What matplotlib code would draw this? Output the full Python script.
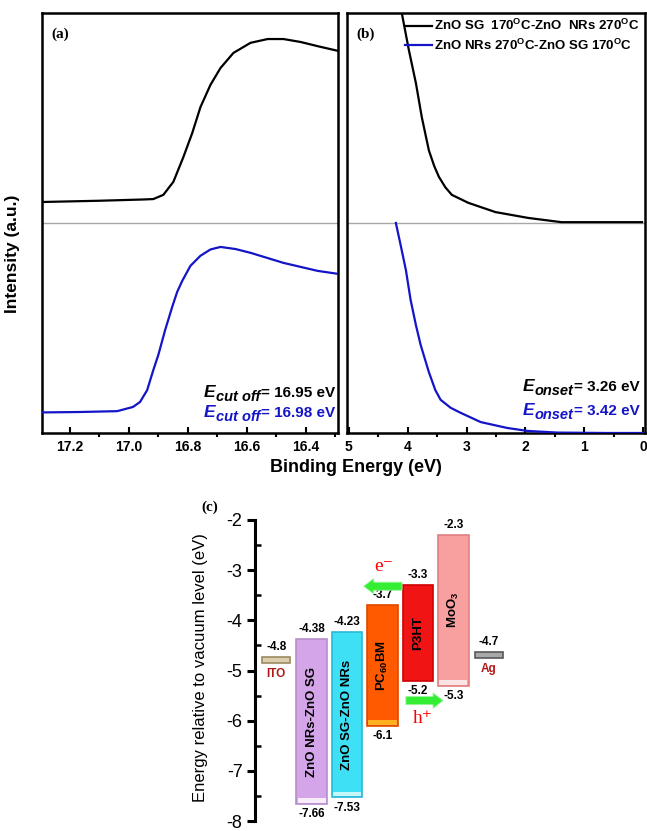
import matplotlib
matplotlib.use("Agg")
import matplotlib.pyplot as plt
from matplotlib.ticker import MultipleLocator, FormatStrFormatter
from matplotlib.lines import Line2D
from matplotlib.transforms import offset_copy

plt.rcParams["font.family"] = "Liberation Sans"
plt.rcParams["axes.unicode_minus"] = False
plt.rcParams["mathtext.fontset"] = "custom"
plt.rcParams["mathtext.rm"] = "Liberation Sans:bold"
plt.rcParams["mathtext.it"] = "Liberation Sans:italic:bold"
plt.rcParams["mathtext.bf"] = "Liberation Sans:bold"

# ---- panel (a): secondary electron cut-off (intensity normalised, stacked) ----
a_black_energy = [17.295, 17.10, 16.95, 16.917, 16.883, 16.849, 16.815, 16.785, 16.757,
                  16.723, 16.689, 16.645, 16.587, 16.529, 16.475, 16.417, 16.359, 16.291]
a_black_int = [0.550, 0.553, 0.556, 0.557, 0.567, 0.598, 0.657, 0.714, 0.776,
               0.829, 0.869, 0.905, 0.929, 0.938, 0.938, 0.931, 0.921, 0.910]
a_blue_energy = [17.295, 17.166, 17.040, 16.986, 16.962, 16.938, 16.917, 16.900, 16.877,
                 16.853, 16.836, 16.819, 16.791, 16.757, 16.723, 16.689, 16.638, 16.587,
                 16.475, 16.359, 16.291]
a_blue_int = [0.049, 0.050, 0.052, 0.062, 0.074, 0.102, 0.150, 0.186, 0.245,
              0.300, 0.336, 0.362, 0.398, 0.422, 0.437, 0.443, 0.438, 0.429,
              0.405, 0.386, 0.379]

# ---- panel (b): valence band onset ----
b_black_energy = [4.15, 4.10, 3.98, 3.86, 3.76, 3.64, 3.55, 3.47, 3.36, 3.25, 2.97,
                  2.51, 1.95, 1.39, 0.81, 0.02]
b_black_int = [1.08, 1.00, 0.912, 0.833, 0.752, 0.673, 0.636, 0.610, 0.585, 0.567,
               0.548, 0.526, 0.512, 0.502, 0.502, 0.502]
b_blue_energy = [4.20, 4.12, 4.03, 3.95, 3.86, 3.78, 3.64, 3.53, 3.44, 3.27, 3.10,
                 2.76, 2.31, 1.97, 1.46, 0.61, 0.0]
b_blue_int = [0.500, 0.448, 0.388, 0.317, 0.257, 0.210, 0.145, 0.102, 0.079, 0.060,
              0.048, 0.026, 0.012, 0.005, 0.001, 0.0, 0.0]

series_labels = ["ZnO SG  170$^{\\mathrm{O}}$C-ZnO  NRs 270$^{\\mathrm{O}}$C",
                 "ZnO NRs 270$^{\\mathrm{O}}$C-ZnO SG 170$^{\\mathrm{O}}$C"]
cutoff_values = [16.95, 16.98]
onset_values = [3.26, 3.42]

# ---- panel (c): energy level diagram ----
layer_names = ["ZnO NRs-ZnO SG", "ZnO SG-ZnO NRs", "PC$_{60}$BM", "P3HT", "MoO$_3$"]
layer_top = [-4.38, -4.23, -3.7, -3.3, -2.3]
layer_bottom = [-7.66, -7.53, -6.1, -5.2, -5.3]
electrode_names = ["ITO", "Ag"]
electrode_level = [-4.8, -4.7]

BLACK = "black"
BLUE = "#1414c8"
GREEN = "#33ee33"
DARKRED = "#b01818"

W, H = 647, 831
fig = plt.figure(figsize=(W / 100, H / 100), dpi=100)
renderer = fig.canvas.get_renderer()


def px_axes(left, top, right, bottom):
    return fig.add_axes([left / W, 1 - bottom / H, (right - left) / W, (bottom - top) / H])


def style_top(ax):
    for s in ax.spines.values():
        s.set_linewidth(1.8)
    ax.set_ylim(0, 1)
    ax.set_yticks([])
    ax.axhline(0.5, color="#a8a8a8", lw=1.0, zorder=1)
    ax.tick_params(axis="x", which="major", direction="in", length=4, width=1.5,
                   labelsize=10, pad=5)
    ax.tick_params(axis="x", which="minor", direction="out", length=3, width=1.5)
    for lab in ax.get_xticklabels():
        lab.set_fontweight("bold")


def energy_label(ax, x, y, sub, value, color):
    """E_sub = value eV, right aligned at (x, y) in axes coords (baseline)."""
    rest = ax.text(x, y, f"= {value:.2f} eV", transform=ax.transAxes, ha="right",
                   va="baseline", color=color, fontweight="bold", fontsize=11)
    x0 = ax.transAxes.inverted().transform(
        (rest.get_window_extent(renderer).x0 - 1, 0))[0]
    low = offset_copy(ax.transAxes, fig=fig, x=0, y=-4, units="dots")
    t_sub = ax.text(x0, y, sub, transform=low, ha="right", va="baseline", color=color,
                    fontweight="bold", style="italic", fontsize=10.5)
    x1 = ax.transAxes.inverted().transform((t_sub.get_window_extent(renderer).x0, 0))[0]
    ax.text(x1, y, "E", transform=ax.transAxes, ha="right", va="baseline", color=color,
            fontweight="bold", style="italic", fontsize=12.5)


# panel (a)
ax_a = px_axes(42, 13, 338, 433)
ax_a.plot(a_black_energy, a_black_int, color=BLACK, lw=1.6, zorder=3)
ax_a.plot(a_blue_energy, a_blue_int, color=BLUE, lw=1.6, zorder=3)
ax_a.set_xlim(17.295, 16.29)
ax_a.xaxis.set_major_locator(MultipleLocator(0.2))
ax_a.xaxis.set_minor_locator(MultipleLocator(0.1))
ax_a.xaxis.set_major_formatter(FormatStrFormatter("%.1f"))
style_top(ax_a)
ax_a.text(0.03, 0.95, "(a)", transform=ax_a.transAxes, ha="left", va="center",
          family="Liberation Serif", fontweight="bold", fontsize=11)
for val, col, yy in zip(cutoff_values, [BLACK, BLUE], [0.086, 0.038]):
    energy_label(ax_a, 0.99, yy, "cut off", val, col)

# panel (b)
ax_b = px_axes(347, 13, 645, 433)
ax_b.plot(b_black_energy, b_black_int, color=BLACK, lw=1.6, zorder=3)
ax_b.plot(b_blue_energy, b_blue_int, color=BLUE, lw=1.6, zorder=3)
ax_b.set_xlim(5.03, -0.03)
ax_b.xaxis.set_major_locator(MultipleLocator(1))
ax_b.xaxis.set_minor_locator(MultipleLocator(0.5))
ax_b.xaxis.set_major_formatter(FormatStrFormatter("%d"))
style_top(ax_b)
ax_b.text(0.03, 0.95, "(b)", transform=ax_b.transAxes, ha="left", va="center",
          family="Liberation Serif", fontweight="bold", fontsize=11)
for val, col, yy in zip(onset_values, [BLACK, BLUE], [0.100, 0.043]):
    energy_label(ax_b, 0.983, yy, "onset", val, col)
handles = [Line2D([], [], color=BLACK, lw=1.6), Line2D([], [], color=BLUE, lw=1.6)]
ax_b.legend(handles, series_labels, loc="upper right", bbox_to_anchor=(1.0, 1.0),
            frameon=False, prop=dict(weight="bold", size=9.5), handlelength=2.0,
            handletextpad=0.2, labelspacing=0.3, borderaxespad=0.0)

fig.text(13 / W, 1 - 254 / H, "Intensity (a.u.)", rotation=90, ha="center", va="center",
         fontweight="bold", fontsize=12.5)
fig.text(356 / W, 1 - 468 / H, "Binding Energy (eV)", ha="center", va="center",
         fontweight="bold", fontsize=13)

# panel (c)
ax_c = px_axes(255, 520, 510, 821)
ax_c.set_xlim(-0.6, 6.6)
ax_c.set_ylim(-8, -2)
for side in ["top", "right", "bottom"]:
    ax_c.spines[side].set_visible(False)
ax_c.spines["left"].set_linewidth(2.2)
ax_c.set_xticks([])
ax_c.yaxis.set_major_locator(MultipleLocator(1))
ax_c.yaxis.set_minor_locator(MultipleLocator(0.5))
ax_c.tick_params(axis="y", which="major", direction="out", length=6, width=2.2,
                 labelsize=13, pad=3)
ax_c.tick_params(axis="y", which="minor", direction="in", length=4, width=1.8)
ax_c.set_ylabel("Energy relative to vacuum level (eV)", fontsize=12)
ax_c.yaxis.set_label_coords(-0.184, 0.51)
fig.text(210 / W, 1 - 507 / H, "(c)", ha="center", va="center",
         family="Liberation Serif", fontweight="bold", fontsize=11)

layer_x = [1, 2, 3, 4, 5]
layer_face = ["#d4a5e8", "#3ee0f5", "#ff5a00", "#f01414", "#f8a0a0"]
layer_edge = ["#b68fcc", "#2bb8d4", "#e04800", "#d00000", "#e08080"]
layer_foot = ["#f6ecfa", "#c4f6fb", "#ffb020", "#f01414", "#fde4e4"]
bar_w = 0.86
for x, top, bot, name, fc, ec, foot in zip(layer_x, layer_top, layer_bottom, layer_names,
                                           layer_face, layer_edge, layer_foot):
    ax_c.bar(x, top - bot, bottom=bot, width=bar_w, color=fc, edgecolor=ec, lw=1.2, zorder=2)
    ax_c.bar(x, 0.09, bottom=bot + 0.02, width=bar_w * 0.92, color=foot, lw=0, zorder=3)
    ax_c.text(x, (top + bot) / 2, name, rotation=90, ha="center", va="center",
              fontweight="bold", fontsize=9.5, zorder=4)
    ax_c.annotate(f"{top:g}", (x, top), xytext=(0, 3), textcoords="offset points",
                  ha="center", va="bottom", fontweight="bold", fontsize=8.5,
                  annotation_clip=False)
    ax_c.annotate(f"{bot:g}", (x, bot), xytext=(0, -3), textcoords="offset points",
                  ha="center", va="top", fontweight="bold", fontsize=8.5,
                  annotation_clip=False)

electrode_x = [0, 6]
electrode_face = ["#dccfae", "#a8a8a8"]
electrode_edge = ["#9c8a60", "#585858"]
for x, lvl, name, fc, ec in zip(electrode_x, electrode_level, electrode_names,
                                electrode_face, electrode_edge):
    ax_c.bar(x, 0.12, bottom=lvl - 0.06, width=0.8, color=fc, edgecolor=ec, lw=1.2, zorder=2)
    ax_c.annotate(f"{lvl:g}", (x, lvl + 0.06), xytext=(0, 3), textcoords="offset points",
                  ha="center", va="bottom", fontweight="bold", fontsize=8.5)
    ax_c.annotate(name, (x, lvl - 0.06), xytext=(0, -3), textcoords="offset points",
                  ha="center", va="top", fontweight="bold", fontsize=8.5, color=DARKRED)

# charge transfer arrows
arrow_style = "simple,head_length=0.72,head_width=1.1,tail_width=0.58"
ax_c.annotate("", xy=(2.47, -3.32), xytext=(3.55, -3.32),
              arrowprops=dict(arrowstyle=arrow_style, fc=GREEN, ec="#9af59a", lw=0.6,
                              mutation_scale=10, shrinkA=0, shrinkB=0))
ax_c.annotate("", xy=(4.71, -5.6), xytext=(3.66, -5.6),
              arrowprops=dict(arrowstyle=arrow_style, fc=GREEN, ec="#9af59a", lw=0.6,
                              mutation_scale=10, shrinkA=0, shrinkB=0))
ax_c.text(3.04, -2.93, "e\u207b", ha="center", va="center", color="red", fontsize=14,
          family=["Liberation Serif", "DejaVu Serif"])
ax_c.text(4.14, -5.96, "h\u207a", ha="center", va="center", color="red", fontsize=14,
          family=["Liberation Serif", "DejaVu Serif"])

fig.savefig("out.png", dpi=100)
